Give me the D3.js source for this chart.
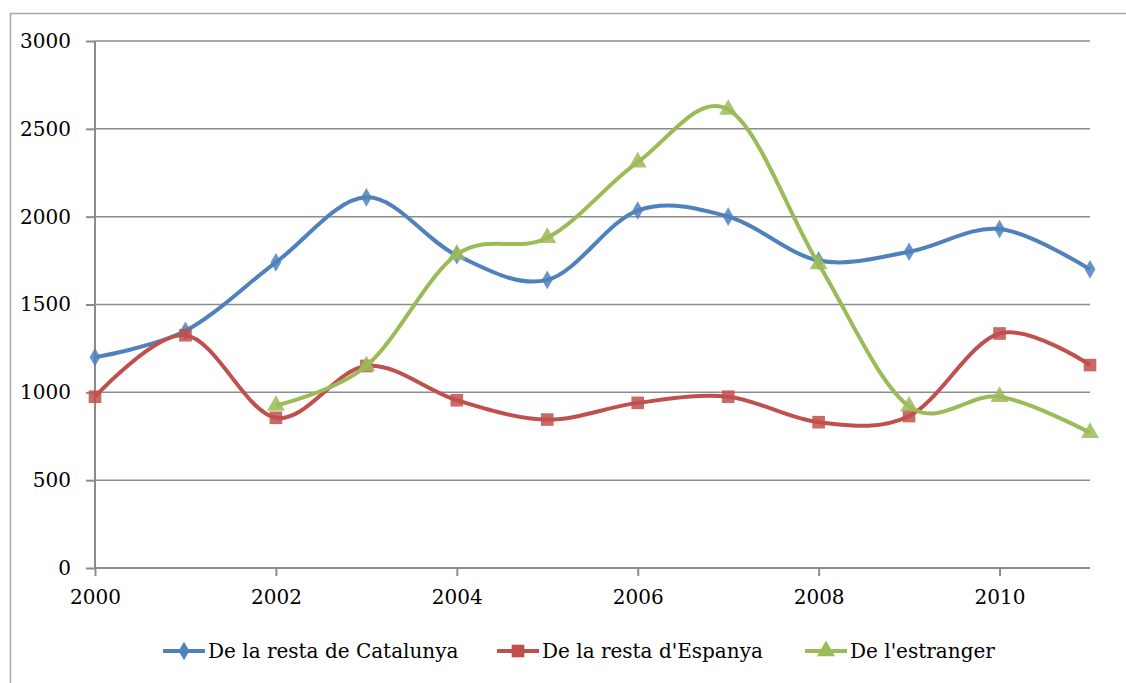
<!DOCTYPE html>
<meta charset="utf-8">
<head>
  <title>Migracions</title>
  <style>
    body { margin: 0; background: #fff; }
  </style>
</head>
<script src="https://d3js.org/d3.v7.min.js"></script>
<div id="my_dataviz"></div>
<script>

// data
var years = [2000, 2001, 2002, 2003, 2004, 2005, 2006, 2007, 2008, 2009, 2010, 2011];
var catalunya = [1200, 1350, 1740, 2110, 1780, 1640, 2035, 2000, 1750, 1800, 1930, 1700];
var espanya   = [975, 1325, 855, 1150, 955, 845, 940, 975, 830, 865, 1335, 1155];
var estranger = [null, null, 925, 1150, 1785, 1880, 2310, 2610, 1730, 920, 975, 770];
var seriesNames = ["De la resta de Catalunya", "De la resta d'Espanya", "De l'estranger"];
var xTicks = [2000, 2002, 2004, 2006, 2008, 2010];
var yTicks = [0, 500, 1000, 1500, 2000, 2500, 3000];

var width = 1126, height = 683;
var colors = ["#4F81BD", "#C0504D", "#9BBB59"];
var symbols = [d3.symbolDiamond, d3.symbolSquare, d3.symbolTriangle];
var symSize = [100, 160, 140];
var font = "'DejaVu Serif', serif";

var svg = d3.select("#my_dataviz")
  .append("svg")
    .attr("width", width)
    .attr("height", height)
    .style("font-family", font);

// outer chart border (runs off the page right and bottom)
svg.append("rect")
  .attr("x", 10.5).attr("y", 13.5)
  .attr("width", 1140).attr("height", 700)
  .attr("fill", "none")
  .attr("stroke", "#a6a6a6")
  .attr("stroke-width", 1.5);

var xScale = d3.scaleLinear().domain([2000, 2011]).range([95, 1090]);
var yScale = d3.scaleLinear().domain([0, 3000]).range([568, 41]);

// gridlines
svg.append("g")
  .selectAll("line")
  .data(yTicks.filter(function(d) { return d > 0; }))
  .enter().append("line")
    .attr("x1", xScale(2000)).attr("x2", xScale(2011))
    .attr("y1", function(d) { return yScale(d); })
    .attr("y2", function(d) { return yScale(d); })
    .attr("stroke", "#8c8c8c")
    .attr("stroke-width", 1.5);

// y axis
var yAxis = d3.axisLeft(yScale).tickValues(yTicks).tickFormat(d3.format("d")).tickSize(9).tickPadding(15);
var gy = svg.append("g")
  .attr("transform", "translate(" + xScale(2000) + ",0)")
  .call(yAxis)
  .attr("font-family", null)
  .attr("font-size", null);
gy.selectAll("path, line").attr("stroke", "#8c8c8c").attr("stroke-width", 2);
gy.select(".domain").attr("d", "M0," + yScale(3000) + "V" + yScale(0));
gy.selectAll("text").style("font-family", font).style("font-size", "20px").attr("fill", "#000");

// x axis
var xAxis = d3.axisBottom(xScale).tickValues(xTicks).tickFormat(d3.format("d")).tickSize(8).tickPadding(14);
var gx = svg.append("g")
  .attr("transform", "translate(0," + yScale(0) + ")")
  .call(xAxis)
  .attr("font-family", null)
  .attr("font-size", null);
gx.selectAll("path, line").attr("stroke", "#8c8c8c").attr("stroke-width", 2);
gx.select(".domain").attr("d", "M" + xScale(2000) + ",0H" + xScale(2011));
gx.selectAll("text").style("font-family", font).style("font-size", "20px").attr("fill", "#000");

// series
var allSeries = [catalunya, espanya, estranger];

var line = d3.line()
  .x(function(d) { return xScale(d.year); })
  .y(function(d) { return yScale(d.v); })
  .curve(d3.curveCardinal.tension(0));

allSeries.forEach(function(vals, i) {
  var pts = years.map(function(y, j) { return {year: y, v: vals[j]}; })
    .filter(function(d) { return d.v != null; });

  svg.append("path")
    .attr("d", line(pts))
    .attr("stroke", colors[i])
    .attr("stroke-width", 4)
    .attr("fill", "none");

  svg.append("g").selectAll("path")
    .data(pts)
    .enter().append("path")
      .attr("d", d3.symbol().type(symbols[i]).size(symSize[i]))
      .attr("transform", function(d) {
        return "translate(" + xScale(d.year) + "," + yScale(d.v) + ")";
      })
      .attr("fill", colors[i])
      .attr("opacity", 0.85);
});

// legend
var legendX = [163, 497, 805];
var legendY = 651;
var legend = svg.append("g");
seriesNames.forEach(function(name, i) {
  var g = legend.append("g").attr("transform", "translate(" + legendX[i] + "," + legendY + ")");
  g.append("line")
    .attr("x1", 0).attr("x2", 42)
    .attr("y1", 0).attr("y2", 0)
    .attr("stroke", colors[i])
    .attr("stroke-width", 4);
  g.append("path")
    .attr("d", d3.symbol().type(symbols[i]).size(symSize[i]))
    .attr("transform", "translate(21,0)")
    .attr("fill", colors[i]);
  g.append("text")
    .attr("x", 45)
    .attr("y", 0)
    .attr("dy", "0.35em")
    .style("font-family", font)
    .style("font-size", "20px")
    .text(name);
});

</script>
